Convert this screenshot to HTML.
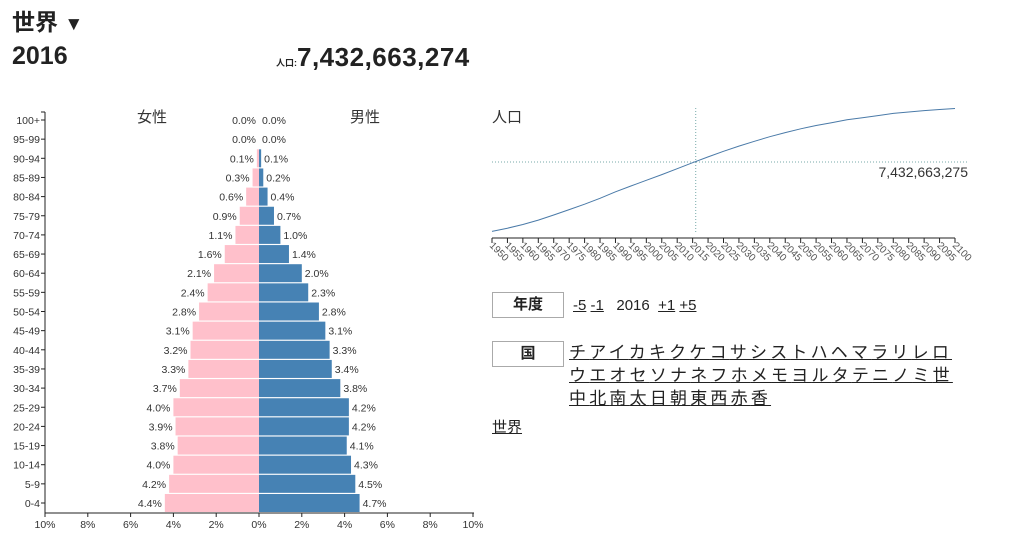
<!DOCTYPE html>
<html><head><meta charset="utf-8">
<style>
body{margin:0;width:1015px;height:552px;background:#fff;font-family:"Liberation Sans","Noto Sans CJK JP",sans-serif;color:#222;position:relative;overflow:hidden}
.abs{position:absolute}
a{color:#222;text-decoration:underline}
.box{position:absolute;border:1px solid #aaa;width:70px;height:24px;text-align:center;font-weight:bold;font-size:15px;line-height:24px}
</style></head><body>
<div class="abs" style="left:12px;top:3px;font-size:23px;font-weight:bold">世界 <span style="font-size:19px">▼</span></div>
<div class="abs" style="left:12px;top:42px;font-size:25px;font-weight:bold">2016</div>
<div class="abs" style="left:276px;top:42px;font-weight:bold"><span style="font-size:9px">人口:</span><span style="font-size:26px;letter-spacing:0.5px">7,432,663,274</span></div>

<svg class="abs" style="left:0;top:0" width="1015" height="552">
<g id="pyr"></g>
<g id="line"></g>
</svg>

<div class="box" style="left:492px;top:292px">年度</div>
<div class="abs" style="left:573px;top:297px;font-size:15px">
<a>-5</a> <a>-1</a>&nbsp;&nbsp; 2016 &nbsp;<a>+1</a> <a>+5</a></div>
<div class="box" style="left:492px;top:341px">国</div>
<div class="abs" id="kana" style="left:569px;top:341px;width:420px;font-size:17px;line-height:23px;letter-spacing:3.2px"></div>
<a class="abs" style="left:492px;top:416px;font-size:15px">世界</a>

<script>
const ages=["100+","95-99","90-94","85-89","80-84","75-79","70-74","65-69","60-64","55-59","50-54","45-49","40-44","35-39","30-34","25-29","20-24","15-19","10-14","5-9","0-4"];
const female=[0.0,0.0,0.1,0.3,0.6,0.9,1.1,1.6,2.1,2.4,2.8,3.1,3.2,3.3,3.7,4.0,3.9,3.8,4.0,4.2,4.4];
const male=[0.0,0.0,0.1,0.2,0.4,0.7,1.0,1.4,2.0,2.3,2.8,3.1,3.3,3.4,3.8,4.2,4.2,4.1,4.3,4.5,4.7];
const xTicks=[-10,-8,-6,-4,-2,0,2,4,6,8,10];
const years=[1950,1955,1960,1965,1970,1975,1980,1985,1990,1995,2000,2005,2010,2015,2020,2025,2030,2035,2040,2045,2050,2055,2060,2065,2070,2075,2080,2085,2090,2095,2100];
const pop=[2.54,2.77,3.03,3.34,3.70,4.08,4.46,4.87,5.33,5.74,6.14,6.54,6.96,7.38,7.79,8.18,8.55,8.89,9.21,9.50,9.77,10.0,10.2,10.4,10.55,10.7,10.85,10.95,11.05,11.13,11.2];
const curYear=2016, curPop=7.432663275;
const kana=["チアイカキクケコサシストハヘマラリレロ","ウエオセソナネフホメモヨルタテニノミ世","中北南太日朝東西赤香"];

const NS="http://www.w3.org/2000/svg";
function mk(p,t,a,txt){const e=document.createElementNS(NS,t);for(const k in a)e.setAttribute(k,a[k]);if(txt!==undefined)e.textContent=txt;p.appendChild(e);return e;}
const pyr=document.getElementById('pyr');
const cx=259,ppx=21.4;
const X=v=>cx+v*ppx;
const Y=i=>120+i*19.15;
const F='font-family:"Liberation Sans",sans-serif';
ages.forEach((a,i)=>{
  const y=Y(i);
  let t=mk(pyr,'text',{x:40,y:y+4,'text-anchor':'end','font-size':10.5,style:F,fill:'#333'},a);
  
  mk(pyr,'line',{x1:41,x2:45,y1:y,y2:y,stroke:'#222'});
  let r=mk(pyr,'rect',{x:X(-female[i]),y:y-9,width:female[i]*ppx,height:18,fill:'#ffc0cb'});
  
  r=mk(pyr,'rect',{x:cx,y:y-9,width:male[i]*ppx,height:18,fill:'#4682b4'});
  
  t=mk(pyr,'text',{x:X(-female[i])-3,y:y+4,'text-anchor':'end','font-size':10.5,style:F,fill:'#333'},female[i].toFixed(1)+'%');
  
  t=mk(pyr,'text',{x:X(male[i])+3,y:y+4,'font-size':10.5,style:F,fill:'#333'},male[i].toFixed(1)+'%');
  
});
mk(pyr,'line',{x1:45,x2:45,y1:112,y2:513,stroke:'#222'});
mk(pyr,'line',{x1:41,x2:45,y1:112,y2:112,stroke:'#222'});
mk(pyr,'line',{x1:45,x2:474,y1:513,y2:513,stroke:'#222'});
xTicks.forEach(v=>{
  mk(pyr,'line',{x1:X(v),x2:X(v),y1:513,y2:517,stroke:'#222'});
  const t=mk(pyr,'text',{x:X(v),y:528,'text-anchor':'middle','font-size':10.5,style:F,fill:'#333'},Math.abs(v)+'%');
  
});
let t=mk(pyr,'text',{x:152,y:122,'text-anchor':'middle','font-size':15,style:'font-family:"Noto Sans CJK JP",sans-serif',fill:'#333'},'女性');

t=mk(pyr,'text',{x:365,y:122,'text-anchor':'middle','font-size':15,style:'font-family:"Noto Sans CJK JP",sans-serif',fill:'#333'},'男性');


const lg=document.getElementById('line');
const LX=y=>492+(y-1950)*(955-492)/150;
const LY=p=>267.5-p*14.2;
t=mk(lg,'text',{x:492,y:122,'font-size':15,style:'font-family:"Noto Sans CJK JP",sans-serif',fill:'#333'},'人口');

mk(lg,'line',{x1:LX(curYear),x2:LX(curYear),y1:108,y2:232,stroke:'#7aa',"stroke-dasharray":"1,2"});
mk(lg,'line',{x1:492,x2:968,y1:LY(curPop),y2:LY(curPop),stroke:'#7aa',"stroke-dasharray":"1,2"});
let d=years.map((y,i)=>(i?'L':'M')+LX(y).toFixed(1)+','+LY(pop[i]).toFixed(1)).join('');
const pth=mk(lg,'path',{d:d,fill:'none',stroke:'#4a7aa8','stroke-width':1});

t=mk(lg,'text',{x:968,y:LY(curPop)+15,'text-anchor':'end','font-size':14,style:F,fill:'#333'},'7,432,663,275');

mk(lg,'line',{x1:492,x2:955,y1:238,y2:238,stroke:'#222'});
years.forEach(y=>{
  mk(lg,'line',{x1:LX(y),x2:LX(y),y1:238,y2:243,stroke:'#222'});
  const t=mk(lg,'text',{x:0,y:0,'font-size':10,style:F,fill:'#555',transform:`translate(${LX(y)-3},${246}) rotate(45)`},y);
  
});
const kd=document.getElementById('kana');
kana.forEach(line=>{
  [...line].forEach(c=>{const a=document.createElement('a');a.textContent=c;
  
  
  kd.appendChild(a);});
  kd.appendChild(document.createElement('br'));
});
</script>
</body></html>
